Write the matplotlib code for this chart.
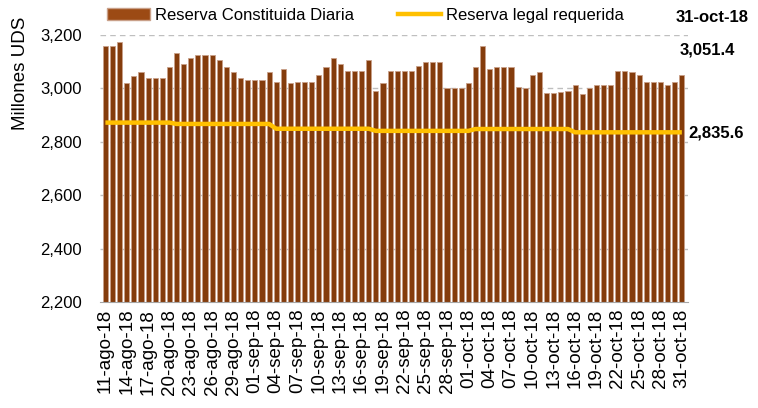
import numpy as np
import pandas as pd
import matplotlib
matplotlib.use("Agg")
import matplotlib.pyplot as plt
from matplotlib.lines import Line2D
from matplotlib.patches import Patch

plt.rcParams['font.family'] = ['Liberation Sans', 'DejaVu Sans']

# daily series, 11-ago-18 .. 31-oct-18
fechas = pd.date_range("2018-08-11", "2018-10-31", freq="D")
meses = {8: "ago", 9: "sep", 10: "oct"}
etiquetas = [f"{d.day:02d}-{meses[d.month]}-18" for d in fechas]

reserva_diaria = [
    3158, 3158, 3173, 3020, 3047, 3060, 3040, 3040, 3040, 3080,
    3133, 3093, 3113, 3125, 3125, 3125, 3105, 3080, 3060, 3040,
    3032, 3032, 3032, 3060, 3025, 3072, 3020, 3026, 3026, 3026,
    3052, 3080, 3113, 3093, 3065, 3065, 3065, 3105, 2992, 3020,
    3065, 3065, 3065, 3065, 3085, 3099, 3099, 3099, 3000, 3000,
    3000, 3020, 3080, 3158, 3072, 3080, 3080, 3080, 3007, 3000,
    3052, 3060, 2984, 2984, 2986, 2992, 3012, 2979, 3000, 3012,
    3012, 3012, 3065, 3065, 3060, 3052, 3026, 3026, 3026, 3012,
    3026, 3051.4,
]
reserva_legal = [2872] * 10 + [2867] * 14 + [2849] * 14 + [2841] * 14 + [2848] * 14 + [2835.6] * 16

x = np.arange(len(fechas))

fig = plt.figure(figsize=(7.58, 4.08), dpi=100)
ax = fig.add_axes([0.132, 0.26, 0.776, 0.654])

ax.bar(x, reserva_diaria, width=0.72, color="#843C0C",
       edgecolor="#C9A089", linewidth=0.6, zorder=2)
ax.plot(x, reserva_legal, color="#FFC000", lw=3.2, zorder=3, solid_capstyle="butt")

ax.set_ylim(2200, 3200)
ax.set_xlim(-0.75, 81.9)
yt = np.arange(2200, 3201, 200)
ax.set_yticks(yt)
ax.set_yticklabels([f"{v:,.0f}" for v in yt], fontsize=12)
ax.set_xticks(x[::3])
ax.set_xticklabels(etiquetas[::3], rotation=90, fontsize=13.5)
ax.tick_params(axis="y", length=0, pad=13)
ax.tick_params(axis="x", length=0, pad=5)

for v in yt[1:]:
    ax.axhline(v, color="#BFBFBF", lw=1.0, ls=(0, (4, 3)), zorder=1)
for s in ["top", "right", "left"]:
    ax.spines[s].set_visible(False)
ax.spines["bottom"].set_color("#A6A6A6")

fig.text(0.027, 0.82, "Millones UDS", rotation=90, fontsize=13.5,
         ha="center", va="center")

fig.text(0.987, 0.956, "31-oct-18", fontsize=12, fontweight="bold",
         ha="right", va="center")
fig.text(0.896, 0.877, f"{reserva_diaria[-1]:,.1f}", fontsize=12,
         fontweight="bold", ha="left", va="center")
fig.text(0.908, 0.674, f"{reserva_legal[-1]:,.1f}", fontsize=12,
         fontweight="bold", ha="left", va="center")

handles = [Patch(facecolor="#9C4A14", edgecolor="#C9A089"),
           Line2D([0], [0], color="#FFC000", lw=3.2)]
fig.legend(handles, ["Reserva Constituida Diaria", "Reserva legal requerida"],
           loc="center left", bbox_to_anchor=(0.141, 0.963), ncol=2, frameon=False,
           fontsize=12, handlelength=2.6, handleheight=0.7, columnspacing=2.6,
           handletextpad=0.3, borderpad=0, borderaxespad=0)

fig.savefig("out.png", dpi=100)
